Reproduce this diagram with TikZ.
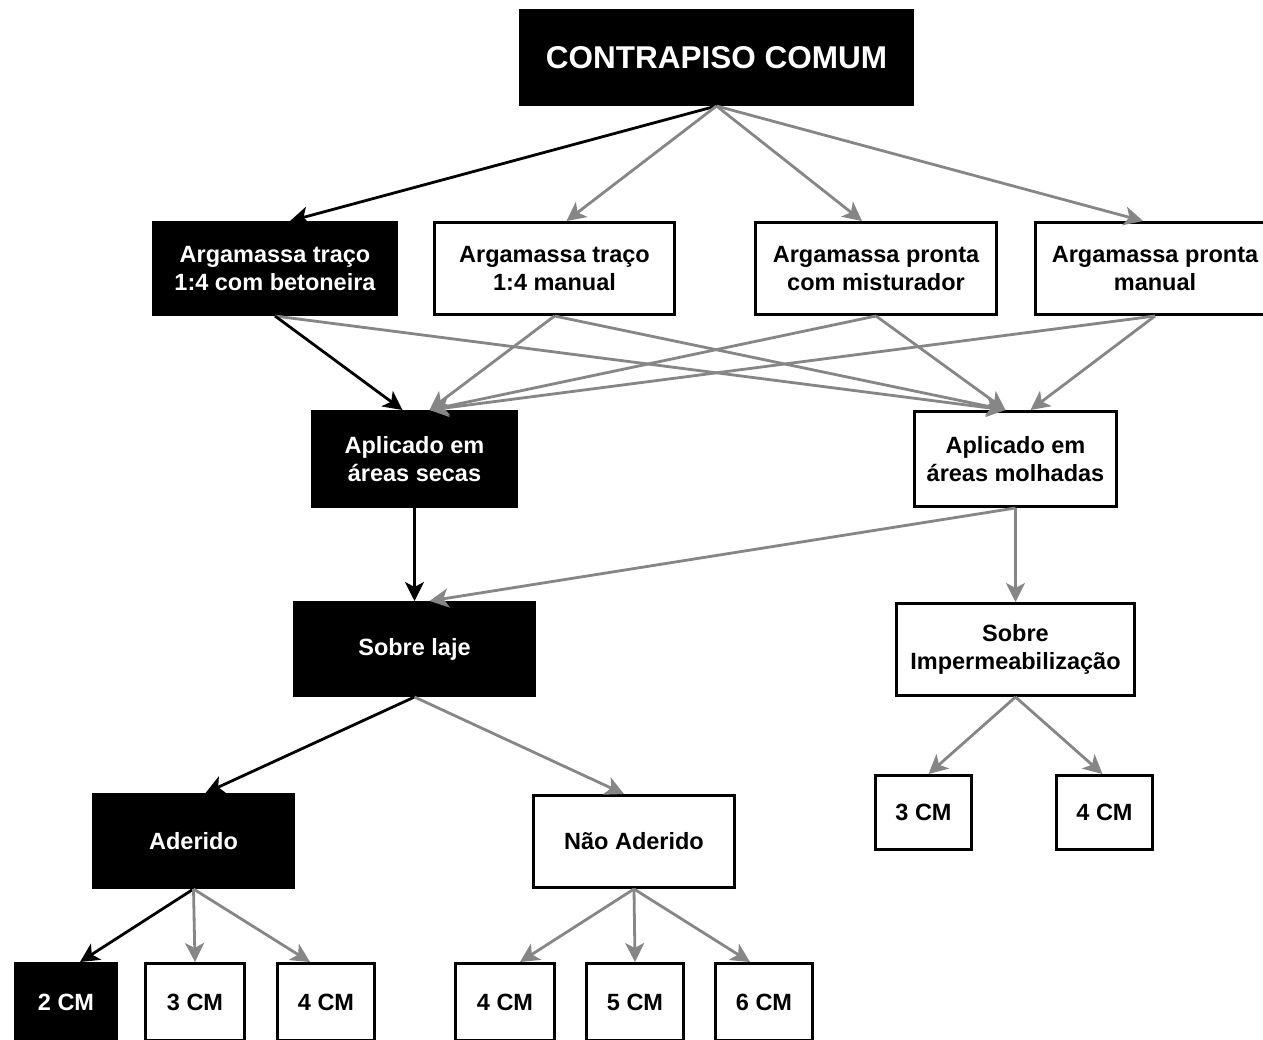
\documentclass[tikz,border=0pt]{standalone}
\usepackage{fontspec}
\setmainfont{Liberation Sans}
\usetikzlibrary{arrows.meta,calc}
\begin{document}
\begin{tikzpicture}[x=1pt,y=-1pt,
  box/.style={rectangle, draw=black, line width=3pt, fill=white, text=black, inner sep=0pt,
    align=center, font=\fontsize{23.5}{28}\selectfont\bfseries},
  dark/.style={box, fill=black, text=white},
  blk/.style={draw=black, line width=2.8pt, -{Stealth[length=19pt,width=19pt,inset=5pt]}},
  gry/.style={draw=gray!95, line width=2.8pt, -{Stealth[length=19pt,width=19pt,inset=5pt]}}
]
\useasboundingbox (0,0) rectangle (1263,1039);
\clip (0,0) rectangle (1263,1039);
\fill[white] (0,0) rectangle (1263,1039);

% nodes
\node[dark, minimum width=392pt, minimum height=94pt, font=\fontsize{31.5}{36}\selectfont\bfseries] (top) at (716.5,57.5) {CONTRAPISO COMUM};
\node[dark, minimum width=243pt, minimum height=92pt] (a1) at (275,268.5) {Argamassa traço\\1:4 com betoneira};
\node[box, minimum width=240pt, minimum height=92pt] (a2) at (554.5,268.5) {Argamassa traço\\1:4 manual};
\node[box, minimum width=241pt, minimum height=92pt] (a3) at (876,268.5) {Argamassa pronta\\com misturador};
\node[box, minimum width=239pt, minimum height=92pt] (a4) at (1155,268.5) {Argamassa pronta\\manual};
\node[dark, minimum width=204pt, minimum height=95pt] (secas) at (414.5,459) {Aplicado em\\áreas secas};
\node[box, minimum width=202pt, minimum height=95pt] (molh) at (1015.5,459) {Aplicado em\\áreas molhadas};
\node[dark, minimum width=240pt, minimum height=93pt] (laje) at (414.5,649) {Sobre laje};
\node[box, minimum width=238pt, minimum height=92pt] (imp) at (1015.5,649.5) {Sobre\\Impermeabilização};
\node[dark, minimum width=200pt, minimum height=93pt] (ader) at (193.5,841) {Aderido};
\node[box, minimum width=201pt, minimum height=92pt] (nader) at (634,841.5) {Não Aderido};
\node[box, minimum width=96pt, minimum height=74pt] (r3) at (923.5,812.5) {3 CM};
\node[box, minimum width=96pt, minimum height=74pt] (r4) at (1104.5,812.5) {4 CM};
\node[dark, minimum width=101pt, minimum height=77pt] (b2) at (66,1002) {2 CM};
\node[box, minimum width=99pt, minimum height=77pt] (b3) at (195,1002) {3 CM};
\node[box, minimum width=97pt, minimum height=77pt] (b4) at (326,1002) {4 CM};
\node[box, minimum width=99pt, minimum height=77pt] (c4) at (505,1002) {4 CM};
\node[box, minimum width=97pt, minimum height=77pt] (c5) at (635,1002) {5 CM};
\node[box, minimum width=97pt, minimum height=77pt] (c6) at (764,1002) {6 CM};

% connectors
\draw[blk] (top.south) -- ($(a1.north)+(15,0)$);
\draw[gry] (top.south) -- ($(a2.north)+(12,0)$);
\draw[gry] (top.south) -- ($(a3.north)+(-14,0)$);
\draw[gry] (top.south) -- ($(a4.north)+(-12,0)$);

\draw[gry] (a1.south) -- ($(molh.north)+(-10,0)$);
\draw[gry] (a2.south) -- ($(molh.north)+(-10,0)$);
\draw[gry] (a3.south) -- ($(molh.north)+(-10,0)$);
\draw[gry] (a4.south) -- ($(molh.north)+(15,0)$);
\draw[gry] (a2.south) -- ($(secas.north)+(15,0)$);
\draw[gry] (a3.south) -- ($(secas.north)+(15,0)$);
\draw[gry] (a4.south) -- ($(secas.north)+(15,0)$);
\draw[blk] (a1.south) -- ($(secas.north)+(-12,0)$);

\draw[gry] (molh.south) -- ($(laje.north)+(15,0)$);
\draw[gry] (molh.south) -- (imp.north);
\draw[blk] (secas.south) -- (laje.north);

\draw[blk] (laje.south) -- ($(ader.north)+(12,0)$);
\draw[gry] (laje.south) -- ($(nader.north)+(-10,0)$);

\draw[gry] (imp.south) -- ($(r3.north)+(5,0)$);
\draw[gry] (imp.south) -- ($(r4.north)+(-2,0)$);

\draw[blk] (ader.south) -- ($(b2.north)+(14,0)$);
\draw[gry] (ader.south) -- (b3.north);
\draw[gry] (ader.south) -- ($(b4.north)+(-16,0)$);

\draw[gry] (nader.south) -- ($(c4.north)+(15,0)$);
\draw[gry] (nader.south) -- (c5.north);
\draw[gry] (nader.south) -- ($(c6.north)+(-14,0)$);
\end{tikzpicture}
\end{document}
